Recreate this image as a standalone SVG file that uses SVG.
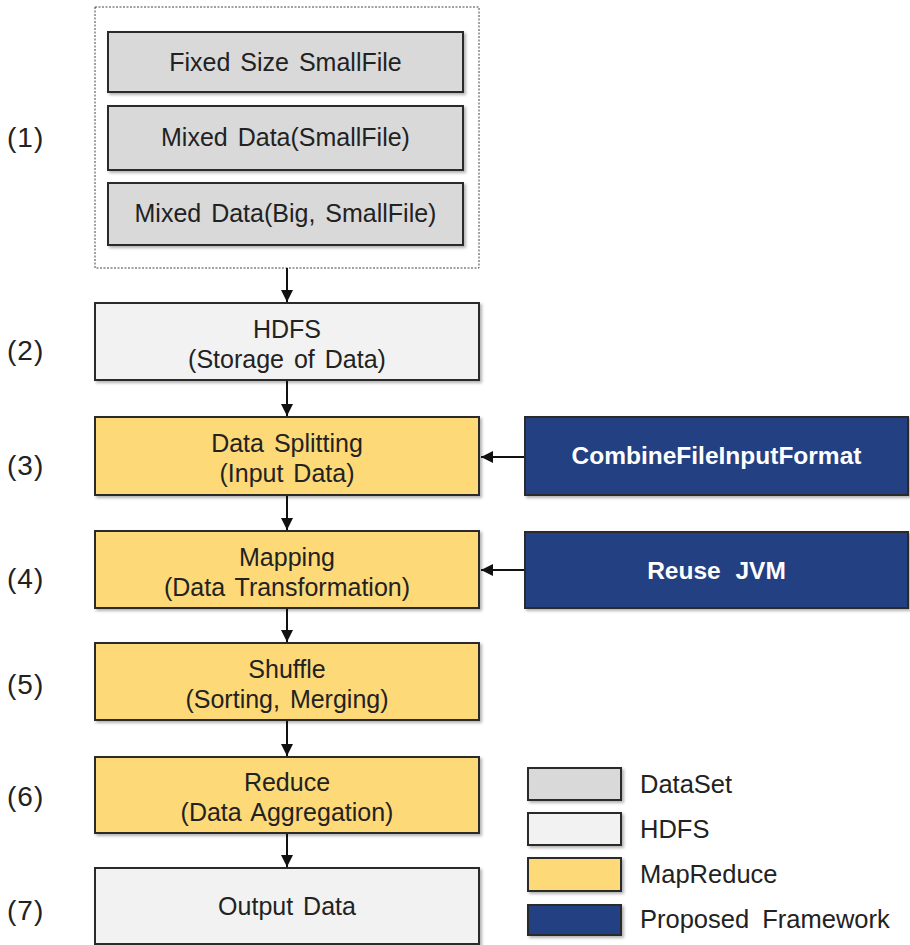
<svg xmlns="http://www.w3.org/2000/svg" width="910" height="945" viewBox="0 0 910 945">
  <defs>
    <filter id="shadow" x="-5%" y="-10%" width="115%" height="130%">
      <feDropShadow dx="2" dy="2" stdDeviation="1.5" flood-color="#000" flood-opacity="0.3"/>
    </filter>
    <marker id="arrow" viewBox="0 0 10 10" refX="10" refY="5" markerWidth="12" markerHeight="12" markerUnits="userSpaceOnUse" orient="auto">
      <path d="M0,0 L10,5 L0,10 z" fill="#111"/>
    </marker>
  </defs>
  <style>
    .box { stroke: #2b2b2b; stroke-width: 2; filter: url(#shadow); }
    .dataset { fill: #d9d9d9; }
    .hdfs { fill: #f2f2f2; }
    .mr { fill: #fdd978; }
    .prop { fill: #203f82; }
    .t { font-family: "Liberation Sans", Arial, sans-serif; font-size: 25px; word-spacing: 3px; fill: #222; text-anchor: middle; }
    .tw { font-family: "Liberation Sans", Arial, sans-serif; font-size: 24.5px; word-spacing: 8px; font-weight: bold; fill: #fff; text-anchor: middle; }
    .num { font-family: "Liberation Sans", Arial, sans-serif; font-size: 28px; letter-spacing: 1px; fill: #222; }
    .leg { font-family: "Liberation Sans", Arial, sans-serif; font-size: 25.5px; word-spacing: 6px; fill: #222; }
    .conn { stroke: #111; stroke-width: 2; fill: none; marker-end: url(#arrow); }
  </style>

  <rect width="910" height="945" fill="#fff"/>

  <!-- step numbers -->
  <g id="step-labels">
    <text class="num" x="7" y="147">(1)</text>
    <text class="num" x="7" y="360">(2)</text>
    <text class="num" x="7" y="475">(3)</text>
    <text class="num" x="7" y="588">(4)</text>
    <text class="num" x="7" y="694">(5)</text>
    <text class="num" x="7" y="806">(6)</text>
    <text class="num" x="7" y="920">(7)</text>
  </g>

  <!-- input datasets -->
  <g id="datasets">
    <rect x="95" y="7" width="384" height="261" fill="#fff" stroke="#444" stroke-width="1" stroke-dasharray="2,1.5"/>
    <g id="fixed-size">
      <rect class="box dataset" x="108" y="32" width="355" height="60"/>
      <text class="t" x="285.5" y="71">Fixed Size SmallFile</text>
    </g>
    <g id="mixed-small">
      <rect class="box dataset" x="108" y="106" width="355" height="64"/>
      <text class="t" x="285.5" y="146">Mixed Data(SmallFile)</text>
    </g>
    <g id="mixed-big-small">
      <rect class="box dataset" x="108" y="183" width="355" height="62"/>
      <text class="t" x="285.5" y="222">Mixed Data(Big, SmallFile)</text>
    </g>
  </g>

  <g id="hdfs">
    <rect class="box hdfs" x="95" y="303" width="384" height="77"/>
    <text class="t" x="287" y="338">HDFS</text>
    <text class="t" x="287" y="368">(Storage of Data)</text>
  </g>

  <g id="splitting">
    <rect class="box mr" x="95" y="417" width="384" height="78"/>
    <text class="t" x="287" y="452">Data Splitting</text>
    <text class="t" x="287" y="482">(Input Data)</text>
  </g>

  <g id="mapping">
    <rect class="box mr" x="95" y="531" width="384" height="77"/>
    <text class="t" x="287" y="566">Mapping</text>
    <text class="t" x="287" y="596">(Data Transformation)</text>
  </g>

  <g id="shuffle">
    <rect class="box mr" x="95" y="643" width="384" height="77"/>
    <text class="t" x="287" y="678">Shuffle</text>
    <text class="t" x="287" y="708">(Sorting, Merging)</text>
  </g>

  <g id="reduce">
    <rect class="box mr" x="95" y="757" width="384" height="76"/>
    <text class="t" x="287" y="791">Reduce</text>
    <text class="t" x="287" y="821">(Data Aggregation)</text>
  </g>

  <g id="output">
    <rect class="box hdfs" x="95" y="868" width="384" height="76"/>
    <text class="t" x="287" y="915">Output Data</text>
  </g>

  <g id="combine-input-format">
    <rect class="box prop" x="525" y="417" width="383" height="78"/>
    <text class="tw" x="716.5" y="464">CombineFileInputFormat</text>
  </g>

  <g id="reuse-jvm">
    <rect class="box prop" x="525" y="532" width="383" height="76"/>
    <text class="tw" x="716.5" y="579">Reuse JVM</text>
  </g>

  <!-- connectors -->
  <g id="connectors">
    <line class="conn" x1="287" y1="268" x2="287" y2="302"/>
    <line class="conn" x1="287" y1="381" x2="287" y2="416"/>
    <line class="conn" x1="287" y1="496" x2="287" y2="530"/>
    <line class="conn" x1="287" y1="609" x2="287" y2="642"/>
    <line class="conn" x1="287" y1="721" x2="287" y2="756"/>
    <line class="conn" x1="287" y1="834" x2="287" y2="867"/>
    <line class="conn" x1="524" y1="457" x2="481" y2="457"/>
    <line class="conn" x1="524" y1="570" x2="481" y2="570"/>
  </g>

  <!-- legend -->
  <g id="legend">
    <rect class="box dataset" x="528" y="768" width="93" height="32"/>
    <text class="leg" x="640" y="793">DataSet</text>
    <rect class="box hdfs" x="528" y="813" width="93" height="32"/>
    <text class="leg" x="640" y="838">HDFS</text>
    <rect class="box mr" x="528" y="858" width="93" height="33"/>
    <text class="leg" x="640" y="883">MapReduce</text>
    <rect class="box prop" x="528" y="905" width="93" height="30"/>
    <text class="leg" x="640" y="928">Proposed Framework</text>
  </g>
</svg>
